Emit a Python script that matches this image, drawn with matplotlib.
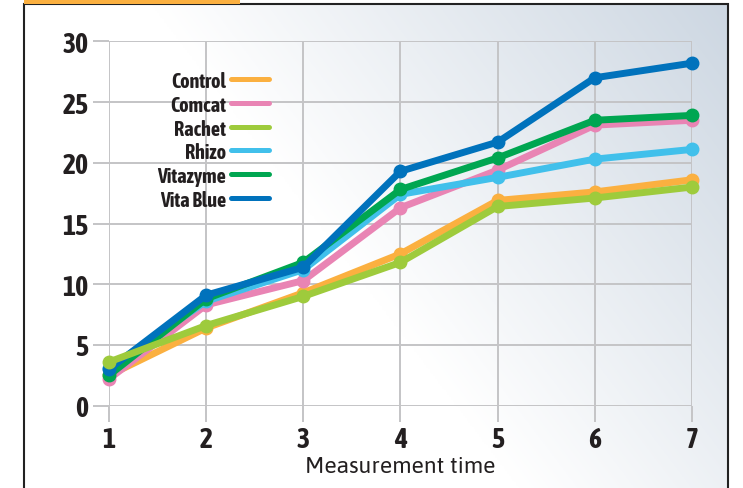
import matplotlib
matplotlib.use("Agg")
import matplotlib.pyplot as plt
from matplotlib.patches import Rectangle
from matplotlib.lines import Line2D
import numpy as np

# data
times = [1, 2, 3, 4, 5, 6, 7]
control = [2.5, 6.4, 9.3, 12.5, 16.9, 17.6, 18.6]
comcat = [2.2, 8.3, 10.3, 16.3, 19.4, 23.1, 23.5]
rachet = [3.6, 6.6, 9.0, 11.8, 16.4, 17.1, 18.0]
rhizo = [3.1, 8.6, 11.2, 17.4, 18.8, 20.3, 21.1]
vitazyme = [2.5, 8.8, 11.8, 17.8, 20.4, 23.5, 23.9]
vita_blue = [3.0, 9.1, 11.4, 19.3, 21.7, 27.0, 28.2]

names = ["Control", "Comcat", "Rachet", "Rhizo", "Vitazyme", "Vita Blue"]
series = [control, comcat, rachet, rhizo, vitazyme, vita_blue]
colors = ["#FBB040", "#E984B4", "#9ECB3C", "#41C0EB", "#00A651", "#0072BC"]
draw_order = [0, 1, 3, 4, 5, 2]

y_ticks = [0, 5, 10, 15, 20, 25, 30]

W, H = 743, 489
cond = ["Asap Condensed", "DejaVu Sans"]
plain = ["Asap", "DejaVu Sans"]
ink = "#231f20"
grid_col = "#c4c4c6"

fig = plt.figure(figsize=(W / 100, H / 100), dpi=100)

#background gradient inside the frame, white at lower left to grey-blue at upper right
bg = fig.add_axes([0, 0, 1, 1], zorder=-10)
fx0, fx1, fy1 = 24 / W, 728 / W, 1 - 5 / H
u, v = np.meshgrid(np.linspace(fx0, fx1, 400), np.linspace(fy1, 0, 300))
t = np.clip(1.3 * (u - 0.70 + 0.5 * v), 0, 1)
c0 = np.array([1.0, 1.0, 1.0])
c1 = np.array([0xcd, 0xd7, 0xe2]) / 255
img = c0[None, None, :] * (1 - t[..., None]) + c1[None, None, :] * t[..., None]
bg.imshow(img, aspect="auto", extent=[fx0, fx1, 0, fy1])
bg.set_xlim(0, 1)
bg.set_ylim(0, 1)
bg.axis("off")
#frame and orange strip
bg.add_patch(Rectangle((fx0, -0.1), fx1 - fx0, fy1 + 0.1,
                       fill=False, edgecolor="#222222", linewidth=1.5))
bg.add_patch(Rectangle((fx0, fy1), (240 - 24) / W, 5 / H,
                       facecolor="#FBB040", edgecolor="none"))

left, right, top, bottom = 109, 692, 42.3, 406.7
ax = fig.add_axes([left / W, 1 - bottom / H, (right - left) / W, (bottom - top) / H])
ax.patch.set_alpha(0)
for s in ax.spines.values():
    s.set_visible(False)
ax.set_xlim(1, 7)
ax.set_ylim(0, 30)
ax.set_xticks(times)
ax.set_yticks(y_ticks)
ax.grid(True, color=grid_col, linewidth=1.4)
ax.tick_params(axis="both", color=grid_col, width=1.4, length=11.7, labelsize=20,
               labelcolor=ink)
ax.tick_params(axis="x", pad=3)
ax.tick_params(axis="y", pad=3)
for lbl in ax.get_xticklabels() + ax.get_yticklabels():
    lbl.set_fontfamily(cond)
    lbl.set_fontweight("bold")

for i in draw_order:
    ax.plot(times, series[i], color=colors[i], linewidth=5,
            marker="o", markersize=9, solid_capstyle="round",
            clip_on=False, zorder=3 + draw_order.index(i))

#legend: label text on the left, short line on the right
for i, name in enumerate(names):
    yp = 1 - (80 + i * 23.8) / H
    fig.text(226 / W, yp, name, ha="right", va="center_baseline",
             fontfamily=cond, fontweight="bold", fontsize=14.5, color=ink)
    fig.add_artist(Line2D([231 / W, 269 / W], [yp, yp], color=colors[i],
                          linewidth=3.6, solid_capstyle="round"))

ax.set_xlabel("Measurement time", fontfamily=plain, fontsize=16.5,
              color=ink, labelpad=1)

fig.savefig("out.png", dpi=100)
